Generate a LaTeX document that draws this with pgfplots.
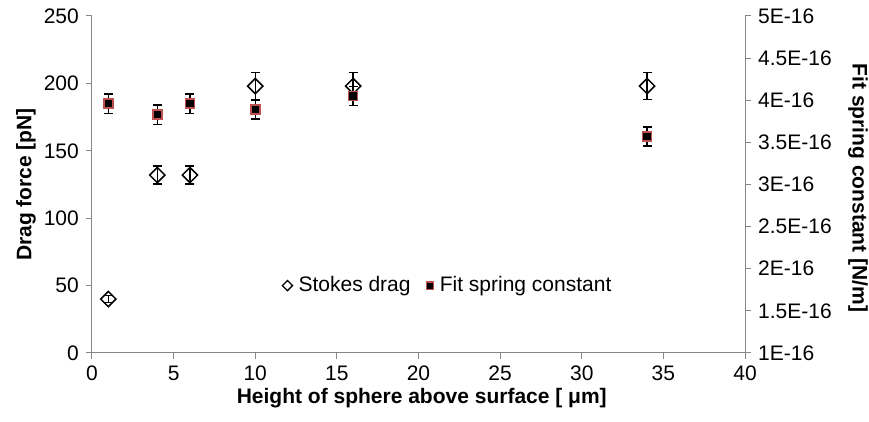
\documentclass[border=0pt]{standalone}
\usepackage{fontspec}
\setmainfont{Liberation Sans}
\usepackage{pgfplots}
\pgfplotsset{compat=1.18}
\definecolor{axisgray}{RGB}{134,134,134}
\definecolor{fitred}{RGB}{192,80,77}
\begin{document}
\fontsize{21}{25}\selectfont
\begin{tikzpicture}
\useasboundingbox (-92pt,-69pt) rectangle (777pt,353pt);
\pgfplotsset{
  base/.style={
    width=653pt, height=337pt, scale only axis,
    xmin=0, xmax=40,
    tick align=outside, major tick length=6pt,
    axis line style={axisgray, line width=1pt},
    tick style={axisgray, line width=1pt},
    /pgf/number format/assume math mode=true,
    label style={font=\bfseries},
    error bars/error bar style={black, line width=1.5pt},
    error bars/error mark options={rotate=90, black, mark size=4.5pt, line width=1.5pt},
  },
}
\begin{axis}[base,
  axis x line*=bottom, axis y line*=left,
  ymin=0, ymax=250, ytick={0,50,...,250},
  xtick={0,5,...,40},
  xlabel={Height of sphere above surface [ μm]},
  ylabel={Drag force [pN]},
  xlabel style={at={(axis description cs:0.505,-0.134)}, anchor=center},
  ylabel style={at={(axis description cs:-0.101,0.5)}, anchor=center, rotate=0},
]
\addplot[only marks, mark=square, mark size=5.4pt,
  mark options={rotate=45, draw=black, line width=1.5pt},
  error bars/.cd, y dir=both, y explicit]
coordinates {
  (1,40) +- (0,2.5)
  (4,132) +- (0,6.7)
  (6,132) +- (0,6.7)
  (10,198) +- (0,10)
  (16,198) +- (0,10)
  (34,198) +- (0,10)
};
\end{axis}
\begin{axis}[base,
  axis x line=none, axis y line*=right,
  ymin=1e-16, ymax=5e-16, scaled y ticks=false,
  ytick={1e-16,1.5e-16,2e-16,2.5e-16,3e-16,3.5e-16,4e-16,4.5e-16,5e-16},
  yticklabels={1E-16,1.5E-16,2E-16,2.5E-16,3E-16,3.5E-16,4E-16,4.5E-16,5E-16},
  ylabel={Fit spring constant [N/m]},
  ylabel style={at={(axis description cs:1.173,0.49)}, anchor=center, rotate=180},
  legend style={at={(axis description cs:0.545,0.2)}, anchor=center, draw=none, fill=none,
    legend columns=2, font=\mdseries,
    /tikz/every odd column/.append style={column sep=4pt},
    /tikz/every even column/.append style={column sep=14pt}},
  legend image code/.code={\draw[#1] plot coordinates {(0.2cm,0cm)};},
]
\addlegendimage{only marks, mark=square, mark size=3.6pt, mark options={rotate=45, draw=black, line width=1.3pt}}
\addlegendentry{Stokes drag}
\addlegendimage{only marks, mark=square*, mark size=3.6pt, mark options={fill=black, draw=fitred, line width=1.2pt}}
\addlegendentry{Fit spring constant}
\addplot[only marks, mark=square*, mark size=4.5pt,
  mark options={fill=black, draw=fitred, line width=1.5pt},
  error bars/.cd, y dir=both, y explicit, error bar style={black, line width=1.5pt}]
coordinates {
  (1,3.96e-16) +- (0,1.15e-17)
  (4,3.83e-16) +- (0,1.15e-17)
  (6,3.96e-16) +- (0,1.15e-17)
  (10,3.89e-16) +- (0,1.15e-17)
  (16,4.05e-16) +- (0,1.15e-17)
  (34,3.57e-16) +- (0,1.15e-17)
};
\end{axis}
\end{tikzpicture}
\end{document}
